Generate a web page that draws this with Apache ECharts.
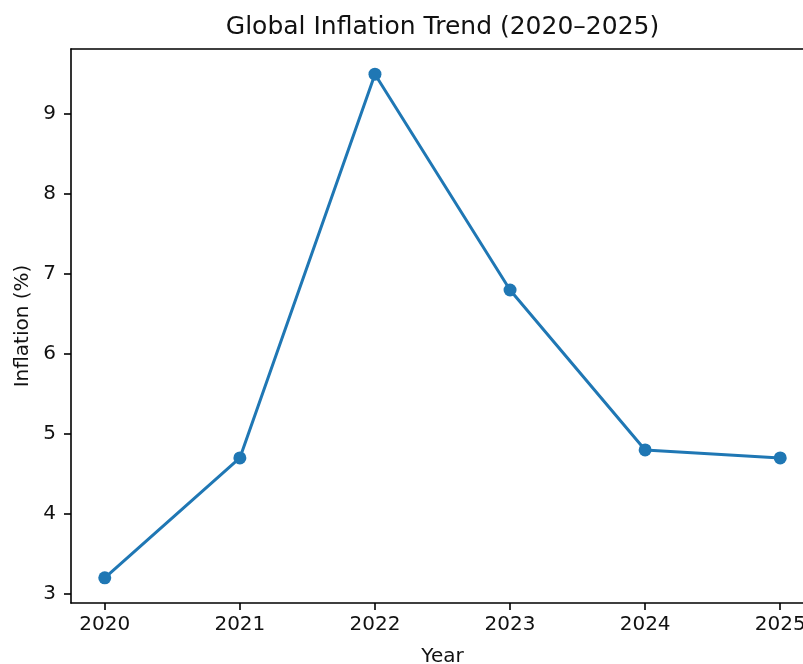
<!DOCTYPE html>
<html>
<head>
<meta charset="utf-8">
<script src="https://cdn.jsdelivr.net/npm/echarts@6/dist/echarts.min.js"></script>
<style>
html,body{margin:0;padding:0;background:#fff;}
#c{width:803px;height:664px;}
</style>
</head>
<body>
<div id="c"></div>
<script>
var years = [2020, 2021, 2022, 2023, 2024, 2025];
var inflation = [3.2, 4.7, 9.5, 6.8, 4.8, 4.7];
var yTicks = [3, 4, 5, 6, 7, 8, 9];
var titleText = 'Global Inflation Trend (2020\u20132025)';

var FONT = 'DejaVu Sans';
var chart = echarts.init(document.getElementById('c'), null, {renderer: 'canvas'});
var pts = years.map(function (y, i) { return [y, inflation[i]]; });

chart.setOption({
  animation: false,
  backgroundColor: '#fff',
  graphic: [{
    type: 'text',
    x: 442.5, y: 27,
    style: {text: titleText, fontFamily: FONT, fontSize: 25, fill: '#111', align: 'center', verticalAlign: 'middle'}
  }],
  grid: {left: 71, top: 49, right: -11, bottom: 61, show: false, containLabel: false, outerBoundsMode: 'none'},
  xAxis: [{
    type: 'value', min: 2019.75, max: 2025.25,
    name: 'Year', nameLocation: 'middle', nameGap: 44,
    nameTextStyle: {fontFamily: FONT, fontSize: 20, color: '#111'},
    axisLine: {show: true, lineStyle: {color: '#000', width: 1.6}},
    axisTick: {show: true, inside: false, length: 7, lineStyle: {color: '#000', width: 1.6}, customValues: years},
    axisLabel: {fontFamily: FONT, fontSize: 20, color: '#111', margin: 12, customValues: years, hideOverlap: false, formatter: function (v) { return String(v); }},
    splitLine: {show: false}
  }, {
    type: 'value', min: 2019.75, max: 2025.25, position: 'top',
    axisLine: {show: true, lineStyle: {color: '#000', width: 1.6}},
    axisTick: {show: false}, axisLabel: {show: false}, splitLine: {show: false}
  }],
  yAxis: {
    type: 'value', min: 2.885, max: 9.815,
    name: 'Inflation (%)', nameLocation: 'middle', nameGap: 38,
    nameTextStyle: {fontFamily: FONT, fontSize: 20, color: '#111'},
    axisLine: {show: true, lineStyle: {color: '#000', width: 1.6}},
    axisTick: {show: true, inside: false, length: 7, lineStyle: {color: '#000', width: 1.6}, customValues: yTicks},
    axisLabel: {fontFamily: FONT, fontSize: 20, color: '#111', margin: 15, customValues: yTicks, formatter: function (v) { return String(v); }},
    splitLine: {show: false}
  },
  series: [{
    type: 'line',
    xAxisIndex: 0,
    data: pts,
    symbol: 'circle',
    symbolSize: 13,
    lineStyle: {color: '#1f77b4', width: 3},
    itemStyle: {color: '#1f77b4'},
    clip: false
  }]
});
</script>
</body>
</html>
